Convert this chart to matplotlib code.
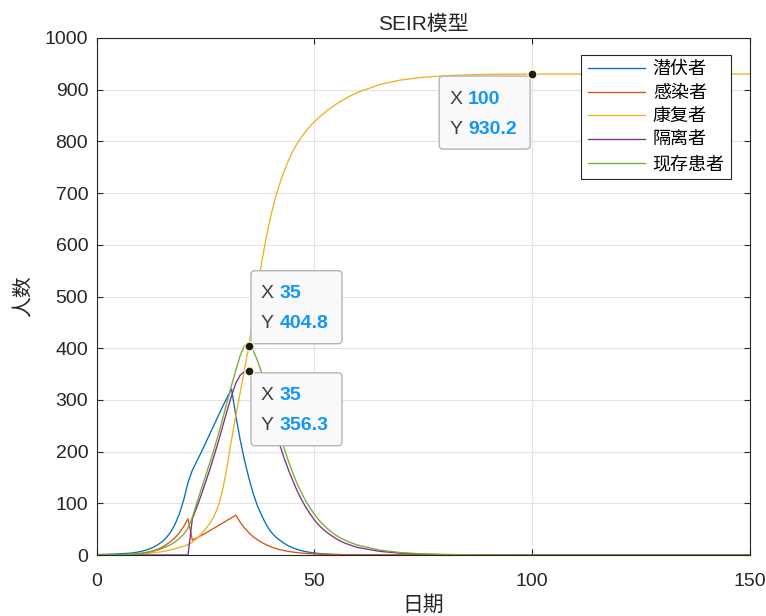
import matplotlib
matplotlib.use("Agg")
import matplotlib.pyplot as plt
import matplotlib.transforms as mtransforms
from matplotlib.patches import FancyBboxPatch

plt.rcParams['font.family'] = ['Liberation Sans', 'Noto Sans CJK SC']

# days sampled (daily up to 60, then coarser where curves are flat)
days = list(range(0, 61)) + [65, 70, 75, 80, 85, 90, 95, 100, 110, 120, 130, 140, 150]

latent = [0.8, 1.0, 1.2, 1.5, 1.8, 2.2, 2.6, 3.1, 3.8, 5.0,
          6.5, 8.6, 11.3, 14.8, 19.4, 25.4, 33.3, 44, 59, 79,
          106, 140, 164, 181, 198, 216, 234, 252, 270, 288,
          305, 321, 268, 222, 182, 148, 118, 94, 75, 58,
          45, 36, 29, 23, 18, 14, 11, 8.5, 6.6, 5.1,
          3.9, 3.0, 2.3, 1.8, 1.4, 1.1, 0.8, 0.6, 0.5, 0.4,
          0.3, 0.1, 0.03, 0, 0, 0, 0, 0, 0, 0, 0, 0, 0, 0]
infected = [0.2, 0.3, 0.4, 0.5, 0.6, 0.8, 1.0, 1.3, 1.8, 2.4,
            3.2, 4.4, 6.0, 8.0, 11, 15, 20, 26, 33, 43,
            55, 70, 29, 33, 37.5, 42, 47, 52, 57, 62,
            67, 72, 77, 63, 52, 43, 35, 29, 24, 19.5,
            16, 13, 10.5, 8.6, 7, 5.7, 4.7, 3.8, 3.1, 2.5,
            2.0, 1.7, 1.4, 1.1, 0.9, 0.75, 0.6, 0.5, 0.4, 0.35,
            0.3, 0.1, 0.03, 0, 0, 0, 0, 0, 0, 0, 0, 0, 0, 0]
recovered = [0, 0.05, 0.1, 0.2, 0.3, 0.4, 0.6, 0.8, 1.1, 1.5,
             2.0, 2.6, 3.3, 4.2, 5.3, 6.5, 8, 10, 12, 14.5,
             17, 20, 25, 32, 40, 50, 61, 75, 96, 128,
             172, 223, 271, 315, 360, 406, 463, 519, 570, 616,
             656, 689, 717, 741, 762, 780, 795, 808, 819, 829,
             838, 846, 853, 860, 866, 872, 877, 882, 887, 891,
             895, 910, 919, 924, 927, 928.8, 929.6, 930.0, 930.2, 930.3, 930.3, 930.3, 930.3, 930.3]
quarantined = [0] * 22 + [
    70, 92, 115, 140, 165, 192, 220, 250,
    280, 308, 333, 348, 355, 356.3, 352, 340, 320, 296,
    270, 243, 215, 189, 166, 145, 125, 108, 93, 80,
    68, 58, 50, 43, 37, 31.5, 27, 23, 20, 17,
    14.5, 7, 3.3, 1.6, 0.8, 0.4, 0.2, 0.1, 0, 0, 0, 0, 0, 0]
current = [0.2, 0.25, 0.3, 0.4, 0.5, 0.6, 0.8, 1.0, 1.4, 2.0,
           2.8, 3.8, 5.2, 7, 9.5, 12.5, 16, 20, 25, 32,
           40, 52, 73, 100, 126, 152, 178, 205, 234, 265,
           297, 328, 358, 386, 406, 404.8, 395, 375, 350, 322,
           293, 264, 235, 208, 183, 160, 139, 121, 105, 91,
           79, 68, 59, 51, 44, 38, 33, 29, 25, 22,
           19, 9.5, 4.5, 2.2, 1.0, 0.5, 0.25, 0.1, 0, 0, 0, 0, 0, 0]

labels = ['潜伏者', '感染者', '康复者', '隔离者', '现存患者']
colors = ['#0072BD', '#D95319', '#EDB120', '#7E2F8E', '#77AC30']

# datatips: (x, y, box left / top offset in pixels from the point)
tips = [(100, 930.2, -93, -2), (35, 404.8, 2, 75), (35, 356.3, 2, -2)]

TXT = '#262626'


def datatip(ax, x, y, dx, dy, w=91, h=73):
    base = mtransforms.ScaledTranslation(x, y, ax.transData)
    box = FancyBboxPatch((dx, dy - h), w, h,
                         boxstyle="round,pad=0,rounding_size=4",
                         transform=mtransforms.IdentityTransform() + base,
                         facecolor='#f9f9fc', edgecolor='#b4b4b4', lw=1.0,
                         clip_on=False, zorder=6)
    ax.add_patch(box)
    for row, (name, val) in enumerate([('X', x), ('Y', y)]):
        ty = dy - 23 - 30 * row
        t1 = mtransforms.Affine2D().translate(dx + 10, ty) + base
        t2 = mtransforms.Affine2D().translate(dx + 29, ty) + base
        ax.text(0, 0, name, transform=t1, fontsize=14, color='#404040',
                va='center', ha='left', zorder=7, clip_on=False)
        sval = f"{val:g}" if isinstance(val, int) else f"{val:.1f}"
        ax.text(0, 0, sval, transform=t2, fontsize=14, color='#1496f7',
                fontweight='bold', va='center', ha='left', zorder=7, clip_on=False)
    ax.plot([x], [y], 'o', ms=6.5, mfc='#1a1a1a', mec='#fffbd0', mew=1.0,
            zorder=8, clip_on=False)


fig = plt.figure(figsize=(7.66, 6.16), dpi=100)
ax = fig.add_axes([96.5 / 766, 61 / 616, (750 - 96.5) / 766, (555 - 38) / 616])

series = [latent, infected, recovered, quarantined, current]
for vals, lab, col in zip(series, labels, colors):
    ax.plot(days, vals, color=col, lw=0.95, label=lab)

ax.set_xlim(0, 150)
ax.set_ylim(0, 1000)
ax.set_xticks([0, 50, 100, 150])
ax.set_yticks(range(0, 1001, 100))
ax.grid(True, color='#e3e3e3', lw=0.8)
ax.set_axisbelow(True)
ax.tick_params(direction='in', length=4, width=0.8, colors=TXT,
               labelsize=14, top=True, right=True, pad=6)
ax.tick_params(axis='x', pad=13)
for s in ax.spines.values():
    s.set_color(TXT)
    s.set_linewidth(0.8)

ax.set_title('SEIR模型', fontsize=15, color=TXT, pad=6)
ax.set_xlabel('日期', fontsize=15, color=TXT, labelpad=4)
ax.set_ylabel('人数', fontsize=15, color=TXT, labelpad=8)

leg = ax.legend(loc='upper right', bbox_to_anchor=(731 / 766, 1 - 55 / 616),
                bbox_transform=fig.transFigure, borderaxespad=0, fancybox=False,
                edgecolor=TXT, framealpha=1, fontsize=13, handlelength=3.2,
                labelspacing=0.37, borderpad=0.35, handletextpad=0.4)
leg.get_frame().set_linewidth(0.8)

for x, y, dx, dy in tips:
    datatip(ax, x, y, dx, dy)

fig.savefig('out.png', dpi=100)
